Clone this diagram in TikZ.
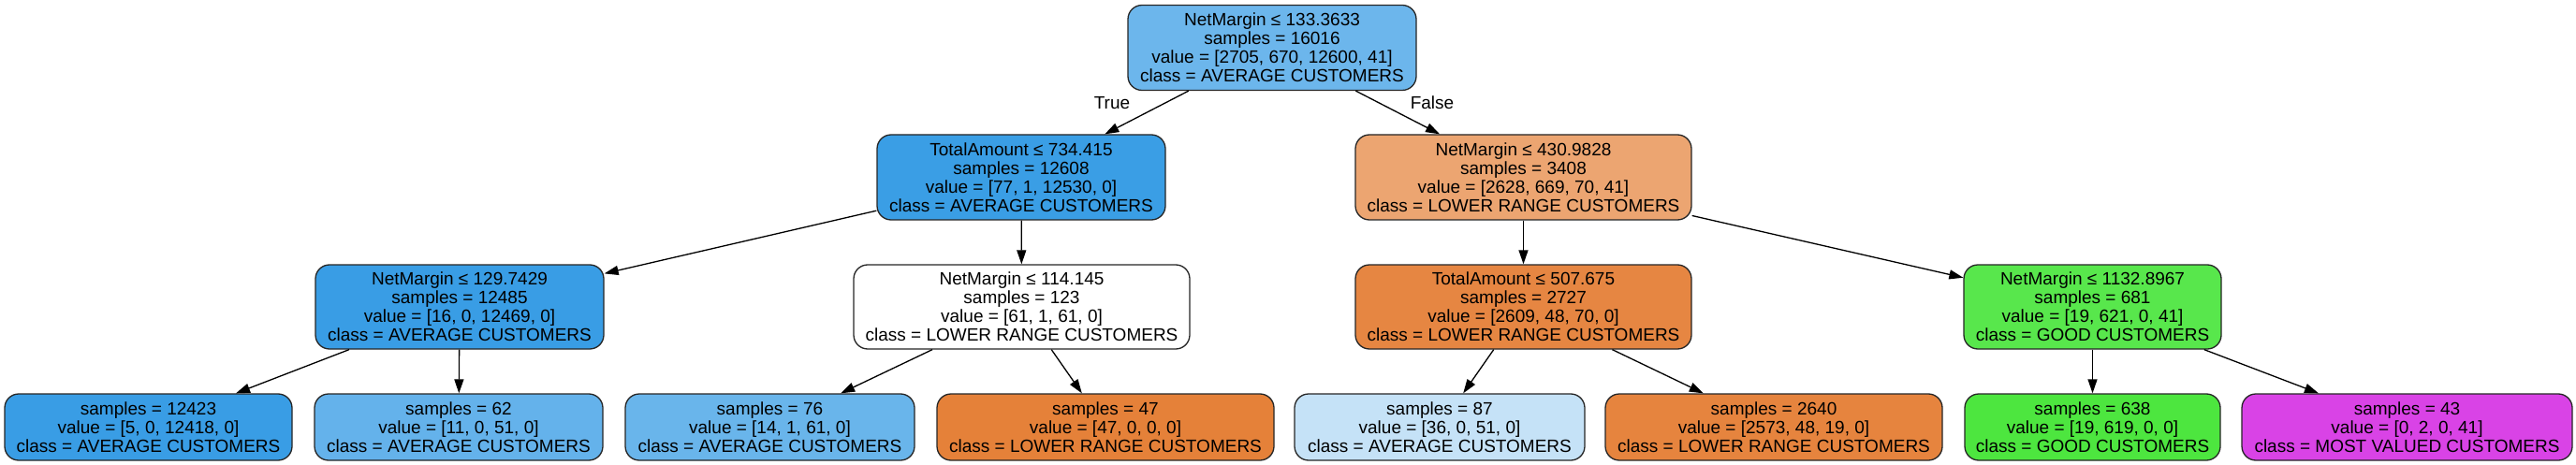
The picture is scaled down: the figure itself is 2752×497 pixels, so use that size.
\documentclass[tikz,border=0pt]{standalone}
\usepackage{fontspec}
\setmainfont{Liberation Sans}
\usetikzlibrary{arrows.meta}
\definecolor{cRoot}{HTML}{6CB6EC}
\definecolor{cA}{HTML}{3A9EE5}
\definecolor{cB}{HTML}{ECA571}
\definecolor{cC}{HTML}{399DE5}
\definecolor{cD}{HTML}{FFFFFF}
\definecolor{cE}{HTML}{E68642}
\definecolor{cF}{HTML}{58E74C}
\definecolor{lA}{HTML}{399DE5}
\definecolor{lB}{HTML}{64B2EB}
\definecolor{lC}{HTML}{69B5EB}
\definecolor{lD}{HTML}{E58139}
\definecolor{lE}{HTML}{C5E2F7}
\definecolor{lF}{HTML}{E6843E}
\definecolor{lG}{HTML}{4DE63F}
\definecolor{lH}{HTML}{D943E6}
\tikzset{
  tn/.style={draw=black!85, line width=1.3pt, rounded corners=15pt, inner sep=0pt,
    align=center, font=\fontsize{19}{20}\selectfont},
  inner4/.style={tn, minimum height=91pt},
  leaf/.style={tn, minimum height=71pt},
  conn/.style={-{Triangle[length=15pt,width=10pt]}, line width=1.3pt},
  lbl/.style={font=\fontsize{19}{20}\selectfont, inner sep=0pt},
}
\begin{document}
\begin{tikzpicture}[x=1pt,y=-1pt]
\useasboundingbox (0,0) rectangle (2752,497);
% level 0
\node[inner4, fill=cRoot, minimum width=308pt] (root) at (1359,51)
  {NetMargin ≤ 133.3633\\samples = 16016\\value = [2705, 670, 12600, 41]\\class = AVERAGE CUSTOMERS};
% level 1
\node[inner4, fill=cA, minimum width=308pt] (n1) at (1091,189.5)
  {TotalAmount ≤ 734.415\\samples = 12608\\value = [77, 1, 12530, 0]\\class = AVERAGE CUSTOMERS};
\node[inner4, fill=cB, minimum width=359pt] (n2) at (1627.5,189.5)
  {NetMargin ≤ 430.9828\\samples = 3408\\value = [2628, 669, 70, 41]\\class = LOWER RANGE CUSTOMERS};
% level 2
\node[inner4, fill=cC, minimum width=308pt, minimum height=90pt] (n3) at (491,328)
  {NetMargin ≤ 129.7429\\samples = 12485\\value = [16, 0, 12469, 0]\\class = AVERAGE CUSTOMERS};
\node[inner4, fill=cD, minimum width=359pt, minimum height=90pt] (n4) at (1091.5,328)
  {NetMargin ≤ 114.145\\samples = 123\\value = [61, 1, 61, 0]\\class = LOWER RANGE CUSTOMERS};
\node[inner4, fill=cE, minimum width=359pt, minimum height=90pt] (n5) at (1627.5,328)
  {TotalAmount ≤ 507.675\\samples = 2727\\value = [2609, 48, 70, 0]\\class = LOWER RANGE CUSTOMERS};
\node[inner4, fill=cF, minimum width=275pt, minimum height=90pt] (n6) at (2235.5,328)
  {NetMargin ≤ 1132.8967\\samples = 681\\value = [19, 621, 0, 41]\\class = GOOD CUSTOMERS};
% leaves
\node[leaf, fill=lA, minimum width=307pt] (l1) at (158.5,456.5)
  {samples = 12423\\value = [5, 0, 12418, 0]\\class = AVERAGE CUSTOMERS};
\node[leaf, fill=lB, minimum width=308pt] (l2) at (490,456.5)
  {samples = 62\\value = [11, 0, 51, 0]\\class = AVERAGE CUSTOMERS};
\node[leaf, fill=lC, minimum width=309pt] (l3) at (822.5,456.5)
  {samples = 76\\value = [14, 1, 61, 0]\\class = AVERAGE CUSTOMERS};
\node[leaf, fill=lD, minimum width=360pt] (l4) at (1181,456.5)
  {samples = 47\\value = [47, 0, 0, 0]\\class = LOWER RANGE CUSTOMERS};
\node[leaf, fill=lE, minimum width=310pt] (l5) at (1538,456.5)
  {samples = 87\\value = [36, 0, 51, 0]\\class = AVERAGE CUSTOMERS};
\node[leaf, fill=lF, minimum width=360pt] (l6) at (1895,456.5)
  {samples = 2640\\value = [2573, 48, 19, 0]\\class = LOWER RANGE CUSTOMERS};
\node[leaf, fill=lG, minimum width=273pt] (l7) at (2235.5,456.5)
  {samples = 638\\value = [19, 619, 0, 0]\\class = GOOD CUSTOMERS};
\node[leaf, fill=lH, minimum width=353pt] (l8) at (2571.5,456.5)
  {samples = 43\\value = [0, 2, 0, 41]\\class = MOST VALUED CUSTOMERS};
% edges
\draw[conn] (root) -- (n1);
\draw[conn] (root) -- (n2);
\draw[conn] (n1) -- (n3);
\draw[conn] (n1) -- (n4);
\draw[conn] (n2) -- (n5);
\draw[conn] (n2) -- (n6);
\draw[conn] (n3) -- (l1);
\draw[conn] (n3) -- (l2);
\draw[conn] (n4) -- (l3);
\draw[conn] (n4) -- (l4);
\draw[conn] (n5) -- (l5);
\draw[conn] (n5) -- (l6);
\draw[conn] (n6) -- (l7);
\draw[conn] (n6) -- (l8);
% labels
\node[lbl] (tlab) at (1188,110) {True};
\node[lbl] (flab) at (1530,110) {False};
\end{tikzpicture}
\end{document}
